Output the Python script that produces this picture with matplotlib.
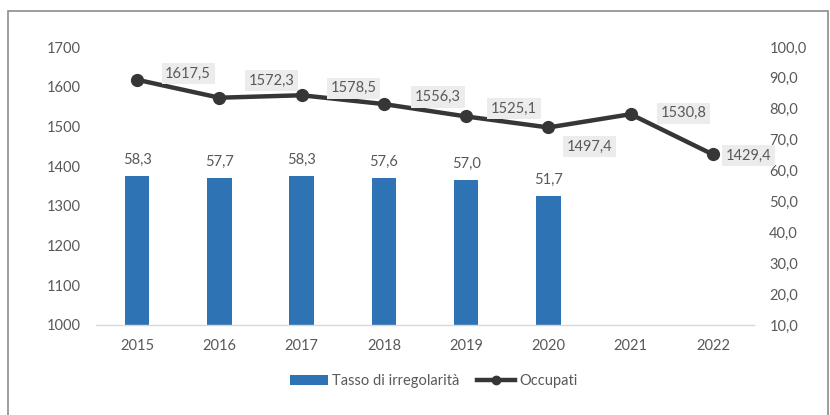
import matplotlib
matplotlib.use("Agg")
import matplotlib.pyplot as plt
from matplotlib.patches import Rectangle
from matplotlib.lines import Line2D
from matplotlib.patches import Patch

plt.rcParams['font.family'] = ['Lato', 'DejaVu Sans']

years = ['2015', '2016', '2017', '2018', '2019', '2020', '2021', '2022']
tasso = [58.3, 57.7, 58.3, 57.6, 57.0, 51.7]
occupati = [1617.5, 1572.3, 1578.5, 1556.3, 1525.1, 1497.4, 1530.8, 1429.4]
occ_label_offsets = [(51, 6), (52, 17), (52, 7), (54, 7), (48, 8), (41, -19), (53, 1), (36, -1)]

def fmt(v):
    return f"{v:.1f}".replace('.', ',')

BLUE = '#2E74B5'
DARK = '#363636'
TXT = '#595959'

fig = plt.figure(figsize=(8.3, 4.15), dpi=100)
fig.patches.append(Rectangle((8/830, -0.1), 820/830, 1.1 - 11/415, transform=fig.transFigure,
                             fill=False, edgecolor='#8c8c8c', linewidth=1.2))

ax = fig.add_axes([96/830, 1 - 325/415, 658/830, 278/415])
ax2 = ax.twinx()

x = list(range(len(years)))
bars = ax.bar(x[:len(tasso)], tasso, width=0.3, color=BLUE, zorder=2)
for xi, v in zip(x, tasso):
    ax.annotate(fmt(v), (xi, v), xytext=(0, 9), textcoords='offset pixels',
                ha='center', va='bottom', fontsize=10.5, color=TXT)

ax.set_ylim(10, 100)
ax.set_yticks(range(10, 101, 10))
ax.set_yticklabels([fmt(t) for t in range(10, 101, 10)])
ax.yaxis.tick_right()
ax.set_xlim(-0.5, len(years) - 0.5)
ax.set_xticks(x)
ax.set_xticklabels(years)

ax2.plot(x, occupati, color=DARK, linewidth=3.2, marker='o', markersize=8.5, zorder=3)
for xi, v, (dx, dy) in zip(x, occupati, occ_label_offsets):
    ax2.annotate(fmt(v), (xi, v), xytext=(dx, dy), textcoords='offset pixels',
                 ha='center', va='center', fontsize=10.5, color=TXT,
                 bbox=dict(boxstyle='square,pad=0.25', facecolor='#ececec', edgecolor='none'))
ax2.set_ylim(1000, 1700)
ax2.set_yticks(range(1000, 1701, 100))
ax2.yaxis.tick_left()

for a in (ax, ax2):
    for s in a.spines.values():
        s.set_visible(False)
    a.tick_params(length=0, labelsize=10.5, labelcolor=TXT)
ax.tick_params(axis='y', pad=11)
ax2.tick_params(axis='y', pad=11)
ax.tick_params(axis='x', pad=10)
ax.spines['bottom'].set_visible(True)
ax.spines['bottom'].set_color('#d9d9d9')
ax.spines['bottom'].set_linewidth(1)

handles = [Patch(facecolor=BLUE, edgecolor='none'),
           Line2D([], [], color=DARK, linewidth=3.2, marker='o', markersize=6)]
fig.legend(handles, ['Tasso di irregolarità', 'Occupati'], loc='center',
           bbox_to_anchor=(434/830, 1 - 381/415), ncol=2, frameon=False,
           fontsize=10.5, labelcolor=TXT, handlelength=2.6, handletextpad=0.3,
           columnspacing=1.2)

fig.savefig('out.png', dpi=100)
